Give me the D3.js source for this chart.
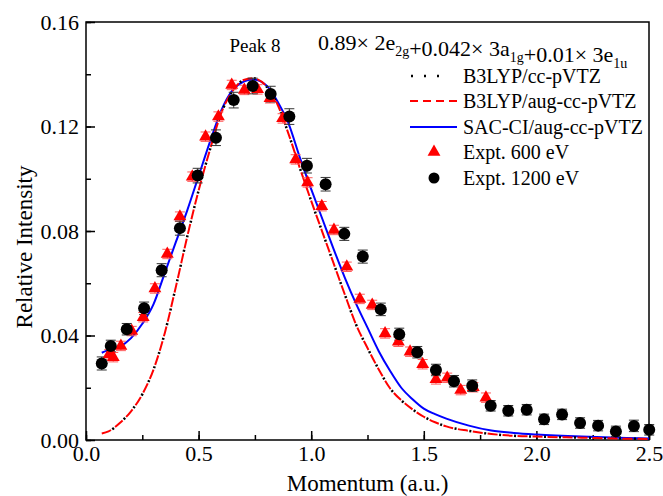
<!DOCTYPE html>
<html>
<head>
<meta charset="utf-8">
<script src="https://cdn.jsdelivr.net/npm/d3@7"></script>
<style>
  body { margin: 0; background: #fff; font-family: "Liberation Serif"; }
</style>
</head>
<body>
<div id="chart"></div>
<script>
const width = 663;
const height = 496;
const margin = { top: 22, right: 14, bottom: 56, left: 86 };
const serif = "Liberation Serif";

// theory curves: momentum (a.u.) and intensity
const curveX = [0.07, 0.1, 0.15, 0.2, 0.25, 0.3, 0.35, 0.4, 0.45, 0.5, 0.55, 0.6, 0.65, 0.7, 0.74, 0.8, 0.85, 0.9, 0.95, 1.0,
    1.05, 1.1, 1.15, 1.2, 1.25, 1.3, 1.35, 1.4, 1.45, 1.5, 1.55, 1.6, 1.7, 1.8, 1.9, 2.0, 2.2, 2.4, 2.5];
const b3lypCc = [0.0025, 0.0033, 0.0065, 0.011, 0.0175, 0.027, 0.041, 0.059, 0.078, 0.0955, 0.111, 0.125, 0.1335, 0.1378, 0.1385, 0.1355, 0.1285, 0.117, 0.104, 0.0915,
    0.0795, 0.0675, 0.0555, 0.044, 0.0352, 0.027, 0.0198, 0.0152, 0.0117, 0.0089, 0.0068, 0.0052, 0.0035, 0.0023, 0.0016, 0.0013, 0.0009, 0.0005, 0.0004];
const b3lypAug = [0.0025, 0.0033, 0.0065, 0.011, 0.0175, 0.027, 0.041, 0.059, 0.078, 0.0955, 0.111, 0.125, 0.1335, 0.1378, 0.1385, 0.1355, 0.1285, 0.117, 0.104, 0.0915,
    0.0795, 0.0675, 0.0555, 0.044, 0.0352, 0.027, 0.0198, 0.0152, 0.0117, 0.0089, 0.0068, 0.0052, 0.0035, 0.0023, 0.0016, 0.0013, 0.0009, 0.0005, 0.0004];
const sacCi = [0.0334, 0.0345, 0.0357, 0.039, 0.0445, 0.052, 0.064, 0.076, 0.088, 0.101, 0.114, 0.126, 0.1338, 0.1372, 0.138, 0.1358, 0.1297, 0.121, 0.108, 0.096,
    0.0845, 0.073, 0.062, 0.052, 0.043, 0.034, 0.0265, 0.020, 0.0156, 0.012, 0.0099, 0.0082, 0.0055, 0.0036, 0.0027, 0.0021, 0.0013, 0.0008, 0.0006];

// Expt. 600 eV
const e600X = [0.103, 0.121, 0.155, 0.203, 0.254, 0.306, 0.361, 0.417, 0.472, 0.531, 0.588, 0.647, 0.703, 0.762, 0.817, 0.873,
    0.931, 0.984, 1.047, 1.101, 1.158, 1.216, 1.271, 1.328, 1.387, 1.439, 1.495, 1.554, 1.604, 1.664, 1.72, 1.776];
const e600Y = [0.0328, 0.0317, 0.036, 0.0417, 0.047, 0.058, 0.0712, 0.0855, 0.1008, 0.1161, 0.1238, 0.1359, 0.134, 0.1342, 0.1308, 0.1231,
    0.1074, 0.0986, 0.0895, 0.0804, 0.0663, 0.054, 0.0517, 0.0408, 0.0376, 0.0338, 0.029, 0.0232, 0.0238, 0.0191, 0.0202, 0.0162];
const e600Err = [0.0018, 0.0018, 0.0018, 0.0018, 0.0018, 0.0018, 0.0018, 0.0018, 0.0018, 0.0018, 0.0018, 0.0018, 0.0018, 0.0018, 0.0018, 0.0018,
    0.0018, 0.0018, 0.0018, 0.0018, 0.0018, 0.0018, 0.0018, 0.0018, 0.0018, 0.0018, 0.0018, 0.0018, 0.0018, 0.0018, 0.0018, 0.0018];

// Expt. 1200 eV
const e1200X = [0.07, 0.11, 0.181, 0.258, 0.336, 0.417, 0.496, 0.577, 0.656, 0.74, 0.82, 0.903, 0.981, 1.064, 1.147, 1.229,
    1.309, 1.391, 1.471, 1.554, 1.634, 1.715, 1.797, 1.875, 1.957, 2.034, 2.114, 2.194, 2.274, 2.353, 2.433, 2.501];
const e1200Y = [0.0293, 0.036, 0.0424, 0.0504, 0.065, 0.0811, 0.1012, 0.1157, 0.1301, 0.1355, 0.1324, 0.1238, 0.105, 0.0979, 0.0789, 0.0702,
    0.05, 0.0405, 0.0336, 0.0268, 0.0225, 0.0208, 0.0131, 0.0112, 0.0116, 0.0079, 0.0098, 0.0065, 0.0055, 0.0033, 0.0054, 0.0039];
const e1200Err = [0.0025, 0.0022, 0.0022, 0.0024, 0.0025, 0.0027, 0.0028, 0.003, 0.003, 0.003, 0.003, 0.003, 0.0028, 0.0026, 0.0025, 0.0025,
    0.0024, 0.0023, 0.0022, 0.0022, 0.0022, 0.0022, 0.002, 0.002, 0.002, 0.002, 0.002, 0.002, 0.002, 0.002, 0.0022, 0.002];

const xTicks = [0.0, 0.5, 1.0, 1.5, 2.0, 2.5];
const yTicks = [0.00, 0.04, 0.08, 0.12, 0.16];

const svg = d3.select("#chart").append("svg")
    .attr("width", width)
    .attr("height", height)
    .style("font-family", serif);

const x = d3.scaleLinear().domain([0, 2.5]).range([margin.left, width - margin.right]);
const y = d3.scaleLinear().domain([0, 0.16]).range([height - margin.bottom, margin.top]);

// axes with inward ticks
const xMinor = d3.range(0, 2.51, 0.25);
const yMinor = d3.range(0, 0.161, 0.02);

svg.append("g")
    .attr("transform", `translate(0,${height - margin.bottom})`)
    .call(d3.axisBottom(x).tickValues(xMinor).tickSize(-5).tickFormat(""))
    .call(g => g.select(".domain").remove())
    .selectAll("line").attr("stroke-width", 1.5);

const xAxis = svg.append("g")
    .attr("transform", `translate(0,${height - margin.bottom})`)
    .call(d3.axisBottom(x).tickValues(xTicks).tickSize(-9).tickPadding(5).tickFormat(d3.format(".1f")));
xAxis.attr("font-family", null);
xAxis.select(".domain").remove();
xAxis.selectAll("line").attr("stroke-width", 1.5);
xAxis.selectAll("text").attr("font-size", 22).attr("fill", "#000").style("font-family", serif);

svg.append("g")
    .attr("transform", `translate(${margin.left},0)`)
    .call(d3.axisLeft(y).tickValues(yMinor).tickSize(-5).tickFormat(""))
    .call(g => g.select(".domain").remove())
    .selectAll("line").attr("stroke-width", 1.5);

const yAxis = svg.append("g")
    .attr("transform", `translate(${margin.left},0)`)
    .call(d3.axisLeft(y).tickValues(yTicks).tickSize(-9).tickPadding(7).tickFormat(d3.format(".2f")));
yAxis.attr("font-family", null);
yAxis.select(".domain").remove();
yAxis.selectAll("line").attr("stroke-width", 1.5);
yAxis.selectAll("text").attr("font-size", 22).attr("fill", "#000").style("font-family", serif);

// frame
svg.append("rect")
    .attr("x", margin.left)
    .attr("y", margin.top)
    .attr("width", width - margin.left - margin.right)
    .attr("height", height - margin.top - margin.bottom)
    .attr("fill", "none")
    .attr("stroke", "#000")
    .attr("stroke-width", 1.5);

// axis titles
svg.append("text")
    .attr("x", (margin.left + width - margin.right) / 2)
    .attr("y", 491)
    .attr("text-anchor", "middle")
    .attr("font-size", 23)
    .text("Momentum (a.u.)");

svg.append("text")
    .attr("transform", "translate(32,247) rotate(-90)")
    .attr("text-anchor", "middle")
    .attr("font-size", 23)
    .text("Relative Intensity");

// curves
const line = d3.line()
    .x((d, i) => x(curveX[i]))
    .y(d => y(d))
    .curve(d3.curveMonotoneX);

svg.append("path")
    .attr("d", line(sacCi))
    .attr("fill", "none")
    .attr("stroke", "#0000ff")
    .attr("stroke-width", 2);

svg.append("path")
    .attr("d", line(b3lypAug))
    .attr("fill", "none")
    .attr("stroke", "#ff0000")
    .attr("stroke-width", 2)
    .attr("stroke-dasharray", "10,5");

svg.append("path")
    .attr("d", line(b3lypCc))
    .attr("fill", "none")
    .attr("stroke", "#000")
    .attr("stroke-width", 2.5)
    .attr("stroke-dasharray", "2,13")
    .attr("stroke-dashoffset", -11.5);

// error bars
function errorBars(xs, ys, errs, color) {
    const g = svg.append("g").attr("stroke", color).attr("stroke-width", 1);
    xs.forEach((xv, i) => {
        const cx = x(xv), y1 = y(ys[i] - errs[i]), y2 = y(ys[i] + errs[i]);
        g.append("line").attr("x1", cx).attr("x2", cx).attr("y1", y1).attr("y2", y2);
        g.append("line").attr("x1", cx - 5).attr("x2", cx + 5).attr("y1", y1).attr("y2", y1);
        g.append("line").attr("x1", cx - 5).attr("x2", cx + 5).attr("y1", y2).attr("y2", y2);
    });
}

errorBars(e600X, e600Y, e600Err, "#ff5a5a");
errorBars(e1200X, e1200Y, e1200Err, "#333");

const triangle = d3.symbol().type(d3.symbolTriangle).size(72);

svg.append("g").selectAll("path")
    .data(e600X)
    .enter().append("path")
    .attr("d", triangle)
    .attr("transform", (d, i) => `translate(${x(d)},${y(e600Y[i])})`)
    .attr("fill", "#ff0000");

svg.append("g").selectAll("circle")
    .data(e1200X)
    .enter().append("circle")
    .attr("cx", d => x(d))
    .attr("cy", (d, i) => y(e1200Y[i]))
    .attr("r", 6)
    .attr("fill", "#000");

// annotations
svg.append("text")
    .attr("x", 255)
    .attr("y", 52)
    .attr("text-anchor", "middle")
    .attr("font-size", 19)
    .text("Peak 8");

const formula = svg.append("text")
    .attr("x", 318)
    .attr("y", 50)
    .attr("font-size", 22);
const parts = [["0.89\u00d7 2e", "2g"], ["+0.042\u00d7 3a", "1g"], ["+0.01\u00d7 3e", "1u"]];
parts.forEach(p => {
    formula.append("tspan").text(p[0]);
    formula.append("tspan").attr("font-size", 14).attr("dy", 6).text(p[1]);
    formula.append("tspan").attr("dy", -6).text("");
});

// legend
const legendY = [76, 101, 127, 152, 178];
const legendLabels = ["B3LYP/cc-pVTZ", "B3LYP/aug-cc-pVTZ", "SAC-CI/aug-cc-pVTZ", "Expt. 600 eV", "Expt. 1200 eV"];

svg.append("line").attr("x1", 411).attr("x2", 450).attr("y1", legendY[0]).attr("y2", legendY[0])
    .attr("stroke", "#000").attr("stroke-width", 2.5).attr("stroke-dasharray", "2,11");
svg.append("line").attr("x1", 410).attr("x2", 457).attr("y1", legendY[1]).attr("y2", legendY[1])
    .attr("stroke", "#ff0000").attr("stroke-width", 2).attr("stroke-dasharray", "8,5");
svg.append("line").attr("x1", 410).attr("x2", 457).attr("y1", legendY[2]).attr("y2", legendY[2])
    .attr("stroke", "#0000ff").attr("stroke-width", 2);
svg.append("path").attr("d", triangle)
    .attr("transform", `translate(434,${legendY[3]})`).attr("fill", "#ff0000");
svg.append("circle").attr("cx", 434).attr("cy", legendY[4]).attr("r", 5.5).attr("fill", "#000");

svg.append("g").selectAll("text")
    .data(legendLabels)
    .enter().append("text")
    .attr("x", 463)
    .attr("y", (d, i) => legendY[i])
    .attr("dy", "0.35em")
    .attr("font-size", 20)
    .text(d => d);
</script>
</body>
</html>
